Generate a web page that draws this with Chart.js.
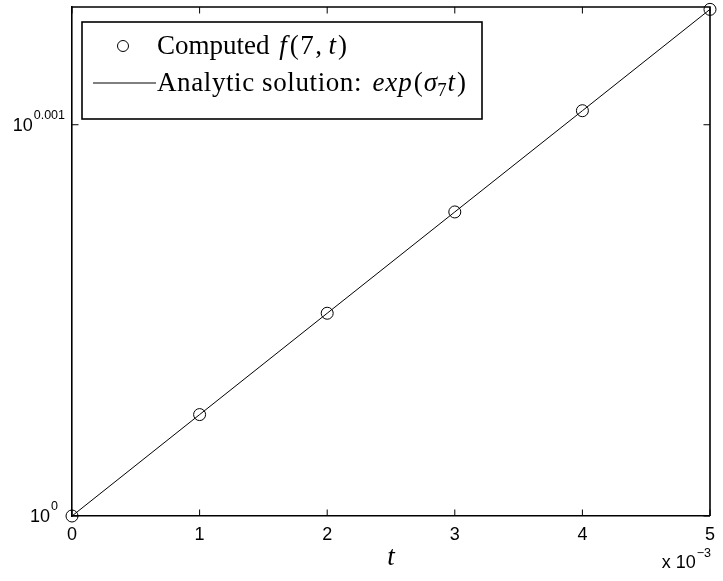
<!DOCTYPE html>
<html>
<head>
<meta charset="utf-8">
<script src="https://cdn.jsdelivr.net/npm/chart.js@4.4.1/dist/chart.umd.min.js"></script>
<style>
  html, body { margin: 0; padding: 0; background: #fff; }
  #wrap { width: 723px; height: 581px; }
</style>
</head>
<body>
<div id="wrap"><canvas id="growth"></canvas></div>
<script>
// sample times and growth values f(7, t)
const tValues = [0, 0.001, 0.002, 0.003, 0.004, 0.005];
const computedF = [1.0, 1.000597, 1.001194, 1.001791, 1.002388, 1.002986];
const analyticF = [1.0, 1.000597, 1.001194, 1.001791, 1.002388, 1.002986];

// axis ticks
const xTickValues = [0, 0.001, 0.002, 0.003, 0.004, 0.005];
const yTicks = [
  { value: 1, exp: "0" },
  { value: 1.0023052, exp: "0.001" },
];

const SANS = "'Liberation Sans', Arial, sans-serif";
const SERIF = "'Liberation Serif', 'Times New Roman', serif";
const FRAME_W = 1.6;

// draws differently styled text pieces along one baseline
function drawRuns(ctx, x, y, runs, size) {
  runs.forEach((r) => {
    const s = size * (r.scale || 1);
    ctx.font = (r.italic ? "italic " : "") + s + "px " + SERIF;
    const sp = r.sp || 0;
    for (const ch of r.text) {
      ctx.fillText(ch, x, y + (r.dy || 0));
      x += ctx.measureText(ch).width + sp;
    }
    x += r.gap || 0;
  });
  return x;
}

const matlabFrame = {
  id: "matlabFrame",
  afterDraw(chart) {
    const { ctx, chartArea: a, scales } = chart;
    const xs = scales.x, ys = scales.y;
    ctx.save();
    ctx.strokeStyle = "#000";
    ctx.fillStyle = "#000";

    // box on the top and right
    ctx.lineWidth = FRAME_W;
    ctx.beginPath();
    ctx.moveTo(a.left, a.top);
    ctx.lineTo(a.right, a.top);
    ctx.lineTo(a.right, a.bottom);
    ctx.stroke();

    // inward ticks
    const tl = 6.5;
    ctx.lineWidth = 1;
    ctx.beginPath();
    xTickValues.forEach((v) => {
      const px = xs.getPixelForValue(v);
      ctx.moveTo(px, a.bottom); ctx.lineTo(px, a.bottom - tl);
      ctx.moveTo(px, a.top); ctx.lineTo(px, a.top + tl);
    });
    yTicks.forEach((t) => {
      const py = ys.getPixelForValue(t.value);
      ctx.moveTo(a.left, py); ctx.lineTo(a.left + tl, py);
      ctx.moveTo(a.right, py); ctx.lineTo(a.right - tl, py);
    });
    ctx.stroke();

    // y tick labels as powers of ten
    ctx.textBaseline = "middle";
    ctx.textAlign = "left";
    yTicks.forEach((t) => {
      const py = ys.getPixelForValue(t.value);
      ctx.font = "12.5px " + SANS;
      const wExp = ctx.measureText(t.exp).width;
      ctx.font = "18px " + SANS;
      const wBase = ctx.measureText("10").width;
      const right = a.left - (t.exp.length === 1 ? 14 : 7);
      const x0 = right - wExp - wBase - 1;
      ctx.fillText("10", x0, py + 1);
      ctx.font = "12.5px " + SANS;
      ctx.fillText(t.exp, x0 + wBase + 1, py - 9);
    });

    // exponent note under the x axis
    ctx.font = "12.5px " + SANS;
    const wm = ctx.measureText("\u22123").width;
    ctx.font = "18px " + SANS;
    const wx = ctx.measureText("x 10").width;
    const xr = a.right + 1;
    ctx.fillText("x 10", xr - wm - wx - 1, a.bottom + 47);
    ctx.font = "12.5px " + SANS;
    ctx.fillText("\u22123", xr - wm, a.bottom + 38);

    // x axis title
    ctx.textAlign = "center";
    ctx.font = "italic 27px " + SERIF;
    ctx.fillText("t", (a.left + a.right) / 2, a.bottom + 42);

    // legend
    const lx = 82, ly = 22, lw = 400, lh = 97;
    ctx.fillStyle = "#fff";
    ctx.fillRect(lx, ly, lw, lh);
    ctx.lineWidth = FRAME_W;
    ctx.strokeRect(lx, ly, lw, lh);
    ctx.fillStyle = "#000";
    ctx.lineWidth = 1;
    ctx.beginPath();
    ctx.arc(123, 46, 5.5, 0, Math.PI * 2);
    ctx.stroke();
    ctx.beginPath();
    ctx.moveTo(93, 83);
    ctx.lineTo(156, 83);
    ctx.stroke();

    ctx.textAlign = "left";
    ctx.textBaseline = "alphabetic";
    drawRuns(ctx, 157, 54, [
      { text: "Computed ", gap: 3 },
      { text: "f", italic: true, gap: 3 },
      { text: "(7,", sp: 1.5, gap: 5 },
      { text: "t", italic: true, gap: 2 },
      { text: ")" },
    ], 27);
    drawRuns(ctx, 157, 91, [
      { text: "Analytic solution: ", sp: 0.6, gap: 3 },
      { text: "exp", italic: true, sp: 1, gap: 1 },
      { text: "(", gap: 1 },
      { text: "\u03C3", italic: true },
      { text: "7", scale: 0.7, dy: 5, gap: 1 },
      { text: "t", italic: true, gap: 2 },
      { text: ")" },
    ], 27);
    ctx.restore();
  },
};

new Chart(document.getElementById("growth"), {
  type: "line",
  data: {
    datasets: [
      {
        label: "Computed f(7,t)",
        data: tValues.map((t, i) => ({ x: t, y: computedF[i] })),
        showLine: false,
        clip: false,
        pointStyle: "circle",
        pointRadius: 6,
        pointBorderWidth: 1,
        pointBorderColor: "#000",
        pointBackgroundColor: "rgba(0,0,0,0)",
      },
      {
        label: "Analytic solution",
        data: tValues.map((t, i) => ({ x: t, y: analyticF[i] })),
        borderColor: "#000",
        borderWidth: 1,
        pointRadius: 0,
        tension: 0,
      },
    ],
  },
  options: {
    responsive: true,
    maintainAspectRatio: false,
    animation: false,
    layout: { padding: { left: 0, top: 7, right: 6, bottom: 0 } },
    plugins: { legend: { display: false }, tooltip: { enabled: false } },
    scales: {
      x: {
        type: "linear",
        min: 0,
        max: 0.005,
        grid: { display: false, drawTicks: false },
        border: { display: true, color: "#000", width: FRAME_W },
        ticks: {
          stepSize: 0.001,
          color: "#000",
          padding: 8,
          font: { family: SANS, size: 18 },
          callback: (v) => String(Math.round(v * 1000)),
        },
        afterFit: (s) => { s.height = 65; },
      },
      y: {
        type: "logarithmic",
        min: 1,
        max: 1.003,
        grid: { display: false, drawTicks: false },
        border: { display: true, color: "#000", width: FRAME_W },
        ticks: { display: false },
        afterFit: (s) => { s.width = 72; },
      },
    },
  },
  plugins: [matlabFrame],
});
</script>
</body>
</html>
